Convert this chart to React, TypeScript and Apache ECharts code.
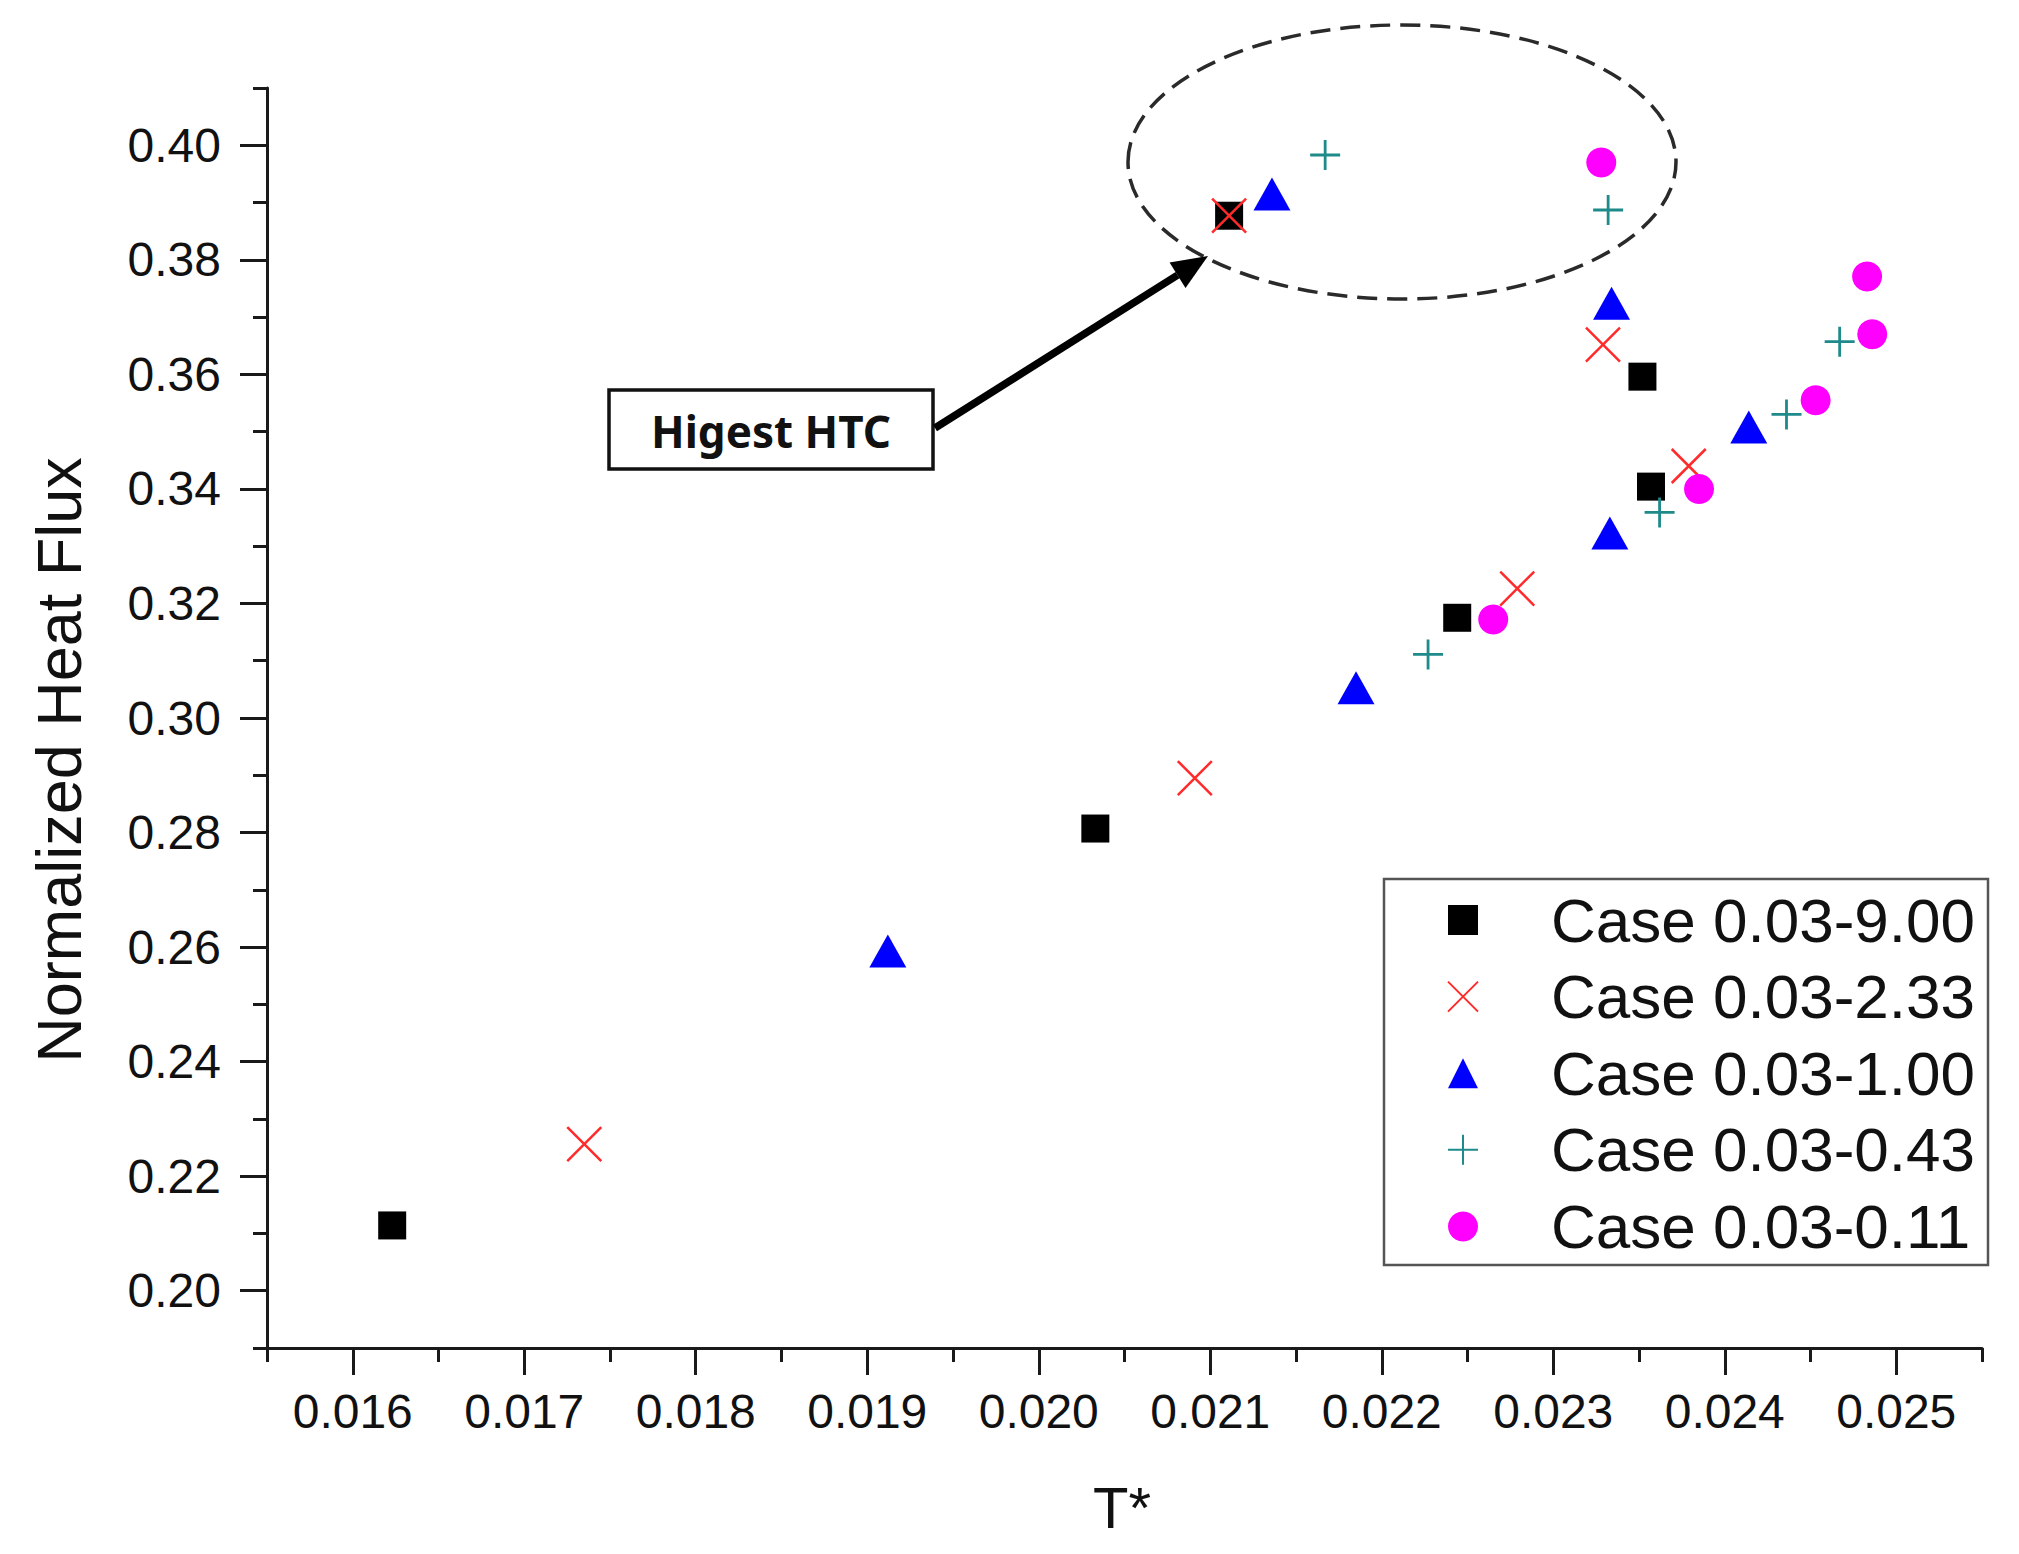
import React, { useEffect, useRef } from "react";
import * as echarts from "echarts";

// ---------------- data ----------------
const seriesNames = [
  "Case 0.03-9.00",
  "Case 0.03-2.33",
  "Case 0.03-1.00",
  "Case 0.03-0.43",
  "Case 0.03-0.11",
];

const case900 = [
  [0.01623, 0.2114],
  [0.02033, 0.2807],
  [0.02244, 0.3175],
  [0.02357, 0.3404],
  [0.02352, 0.3596],
  [0.02111, 0.3877],
];
const case233 = [
  [0.01735, 0.2256],
  [0.02091, 0.2895],
  [0.02279, 0.3226],
  [0.02379, 0.344],
  [0.02329, 0.3652],
  [0.02111, 0.3877],
];
const case100 = [
  [0.01912, 0.2593],
  [0.02185, 0.3053],
  [0.02333, 0.3323],
  [0.02414, 0.3508],
  [0.02334, 0.3724],
  [0.02136, 0.3915],
];
const case043 = [
  [0.02227, 0.3111],
  [0.02362, 0.3359],
  [0.02436, 0.353],
  [0.02467, 0.3657],
  [0.02332, 0.3887],
  [0.02167, 0.3983],
];
const case011 = [
  [0.02265, 0.3172],
  [0.02385, 0.34],
  [0.02453, 0.3555],
  [0.02486, 0.367],
  [0.02483, 0.3771],
  [0.02328, 0.397],
];

const xTickLabels = [0.016, 0.017, 0.018, 0.019, 0.02, 0.021, 0.022, 0.023, 0.024, 0.025];
const xMinorTicks = [0.0155, 0.0165, 0.0175, 0.0185, 0.0195, 0.0205, 0.0215, 0.0225, 0.0235, 0.0245, 0.0255];
const yTickLabels = [0.2, 0.22, 0.24, 0.26, 0.28, 0.3, 0.32, 0.34, 0.36, 0.38, 0.4];
const yMinorTicks = [0.19, 0.21, 0.23, 0.25, 0.27, 0.29, 0.31, 0.33, 0.35, 0.37, 0.39, 0.41];

const xTitle = "T*";
const yTitle = "Normalized Heat Flux";
const annotationText = "Higest HTC";

// ---------------- chart ----------------
const FONT = "'Liberation Sans', Arial, sans-serif";
const AXIS_COLOR = "#1a1a1a";

const GRID = { left: 267, top: 88, width: 1715, height: 1260 };
const X_MIN = 0.0155;
const X_MAX = 0.0255;
const Y_MIN = 0.19;
const Y_MAX = 0.41;

const CROSS = "path://M0,0L10,10M10,0L0,10";
const PLUS = "path://M5,0L5,10M0,5L10,5";

function buildOption(): any {
  const baseX = {
    type: "value",
    gridIndex: 0,
    position: "bottom",
    min: X_MIN,
    max: X_MAX,
    splitLine: { show: false },
  };
  const baseY = {
    type: "value",
    gridIndex: 0,
    position: "left",
    min: Y_MIN,
    max: Y_MAX,
    splitLine: { show: false },
  };

  // arrow geometry
  const ax0 = 935, ay0 = 428, ax1 = 1208, ay1 = 256;
  const dx = ax1 - ax0, dy = ay1 - ay0;
  const len = Math.sqrt(dx * dx + dy * dy);
  const ux = dx / len, uy = dy / len;
  const headL = 36, headW = 15;
  const bx = ax1 - ux * headL, by = ay1 - uy * headL;
  const px = -uy, py = ux;

  return {
    animation: false,
    backgroundColor: "#ffffff",
    grid: { left: GRID.left, top: GRID.top, width: GRID.width, height: GRID.height },
    xAxis: [
      {
        ...baseX,
        axisLine: { show: true, lineStyle: { color: AXIS_COLOR, width: 3 } },
        axisTick: {
          show: true,
          customValues: xTickLabels,
          length: 27,
          inside: false,
          lineStyle: { color: AXIS_COLOR, width: 3 },
        },
        axisLabel: {
          show: true,
          customValues: xTickLabels,
          formatter: (v: number) => v.toFixed(3),
          fontSize: 48,
          fontFamily: FONT,
          color: "#111",
          margin: 39,
        },
      },
      {
        ...baseX,
        axisLine: { show: false },
        axisTick: {
          show: true,
          customValues: xMinorTicks,
          length: 14,
          inside: false,
          lineStyle: { color: AXIS_COLOR, width: 3 },
        },
        axisLabel: { show: false },
      },
    ],
    yAxis: [
      {
        ...baseY,
        axisLine: { show: true, lineStyle: { color: AXIS_COLOR, width: 3 } },
        axisTick: {
          show: true,
          customValues: yTickLabels,
          length: 27,
          inside: false,
          lineStyle: { color: AXIS_COLOR, width: 3 },
        },
        axisLabel: {
          show: true,
          customValues: yTickLabels,
          formatter: (v: number) => v.toFixed(2),
          fontSize: 48,
          fontFamily: FONT,
          color: "#111",
          margin: 46,
        },
      },
      {
        ...baseY,
        axisLine: { show: false },
        axisTick: {
          show: true,
          customValues: yMinorTicks,
          length: 14,
          inside: false,
          lineStyle: { color: AXIS_COLOR, width: 3 },
        },
        axisLabel: { show: false },
      },
    ],
    legend: {
      orient: "vertical",
      left: 1447,
      top: 889,
      padding: 0,
      itemWidth: 30,
      itemHeight: 30,
      itemGap: 14.6,
      selectedMode: false,
      textStyle: {
        fontSize: 62,
        lineHeight: 60,
        fontFamily: FONT,
        color: "#111",
        padding: [0, 0, 0, 68],
      },
      data: seriesNames,
    },
    series: [
      {
        name: seriesNames[0],
        type: "scatter",
        data: case900,
        symbol: "rect",
        symbolSize: 28,
        itemStyle: { color: "#000000", opacity: 1 },
        z: 2,
      },
      {
        name: seriesNames[1],
        type: "scatter",
        data: case233,
        symbol: CROSS,
        symbolSize: 34,
        itemStyle: { color: "rgba(0,0,0,0)", borderColor: "#ff2a2a", borderWidth: 2.5, opacity: 1 },
        z: 3,
      },
      {
        name: seriesNames[2],
        type: "scatter",
        data: case100,
        symbol: "triangle",
        symbolSize: [37, 33],
        itemStyle: { color: "#0000ff", opacity: 1 },
        z: 4,
      },
      {
        name: seriesNames[3],
        type: "scatter",
        data: case043,
        symbol: PLUS,
        symbolSize: 30,
        itemStyle: { color: "rgba(0,0,0,0)", borderColor: "#1f8a8a", borderWidth: 2.8, opacity: 1 },
        z: 5,
      },
      {
        name: seriesNames[4],
        type: "scatter",
        data: case011,
        symbol: "circle",
        symbolSize: 30,
        itemStyle: { color: "#ff00ff", opacity: 1 },
        z: 6,
      },
    ],
    graphic: [
      // legend frame
      {
        type: "rect",
        shape: { x: 1384, y: 879, width: 604, height: 386 },
        style: { fill: "none", stroke: "#555555", lineWidth: 2.5 },
        z: 1,
        silent: true,
      },
      // dashed ellipse
      {
        type: "ellipse",
        shape: { cx: 1402, cy: 162, rx: 274, ry: 137 },
        style: { fill: "none", stroke: "#2a2a2a", lineWidth: 3.5, lineDash: [20, 10] },
        z: 10,
        silent: true,
      },
      // annotation box
      {
        type: "rect",
        shape: { x: 609, y: 390, width: 324, height: 79 },
        style: { fill: "#ffffff", stroke: "#111111", lineWidth: 3.5 },
        z: 10,
        silent: true,
      },
      {
        type: "text",
        x: 771,
        y: 431,
        style: {
          text: annotationText,
          fontSize: 44,
          fontWeight: "bold",
          fontFamily: "'Noto Sans', 'Open Sans', sans-serif",
          fill: "#111111",
          align: "center",
          verticalAlign: "middle",
        },
        z: 11,
        silent: true,
      },
      // arrow
      {
        type: "line",
        shape: { x1: ax0, y1: ay0, x2: bx, y2: by },
        style: { stroke: "#000000", lineWidth: 7.5 },
        z: 10,
        silent: true,
      },
      {
        type: "polygon",
        shape: {
          points: [
            [ax1, ay1],
            [bx + px * headW, by + py * headW],
            [bx - px * headW, by - py * headW],
          ],
        },
        style: { fill: "#000000" },
        z: 10,
        silent: true,
      },
      // axis titles
      {
        type: "text",
        x: 59,
        y: 760,
        rotation: Math.PI / 2,
        style: {
          text: yTitle,
          fontSize: 63,
          fontFamily: FONT,
          fill: "#111111",
          align: "center",
          verticalAlign: "middle",
        },
        silent: true,
      },
      {
        type: "text",
        x: 1122,
        y: 1507,
        style: {
          text: xTitle,
          fontSize: 58,
          fontFamily: FONT,
          fill: "#111111",
          align: "center",
          verticalAlign: "middle",
        },
        silent: true,
      },
    ],
  };
}

export default function App() {
  const ref = useRef<HTMLDivElement>(null);
  useEffect(() => {
    if (!ref.current) return;
    const chart = echarts.init(ref.current, null, { renderer: "svg" });
    chart.setOption(buildOption());
    return () => chart.dispose();
  }, []);
  return (
    <div
      ref={ref}
      style={{
        position: "absolute",
        left: 0,
        top: 0,
        width: 2019,
        height: 1554,
        background: "#ffffff",
      }}
    />
  );
}
